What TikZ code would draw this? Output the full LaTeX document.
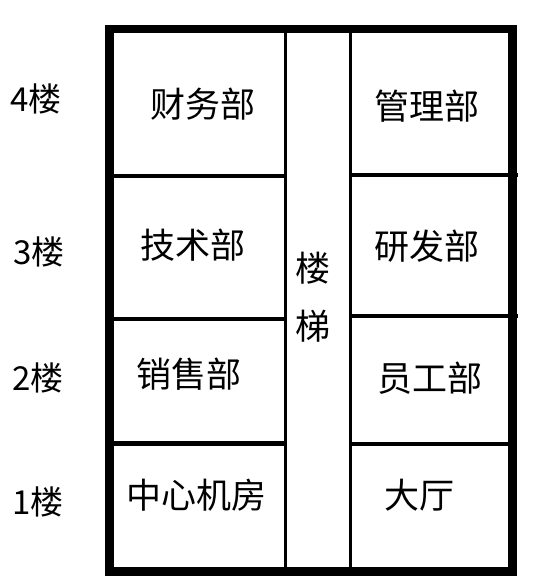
\documentclass[tikz,border=0pt]{standalone}
\usepackage{fontspec}
\setmainfont{Noto Sans CJK SC}
\newcommand{\wall}[2]{
  \draw [line width=4.5pt,color=black] (#1) to (#2)
}
\tikzset{
  room/.style={font=\fontsize{35}{42}\selectfont, inner sep=0pt},
  floor/.style={font=\fontsize{33}{40}\selectfont, inner sep=0pt}
}

\begin{document}
\begin{tikzpicture}[x=1pt,y=-1pt]
\useasboundingbox (0,0) rectangle (537,586);

% outer walls
\draw [line width=8.5pt,color=black] (109.5,29) rectangle (512.5,571.5);

% stair walls
\coordinate (S1t) at (285.5, 33);
\coordinate (S1b) at (285.5,567);
\coordinate (S2t) at (350  , 33);
\coordinate (S2b) at (350  ,567);
\draw [line width=3pt] (S1t) -- (S1b);
\draw [line width=3pt] (S2t) -- (S2b);

% left side walls
\coordinate (L1a) at (114,176);
\coordinate (L1b) at (285,176);
\coordinate (L2a) at (114,319);
\coordinate (L2b) at (285,319);
\coordinate (L3a) at (114,443.5);
\coordinate (L3b) at (285,443.5);

% right side walls
\coordinate (R1a) at (350,175);
\coordinate (R1b) at (518,175);
\coordinate (R2a) at (350,316);
\coordinate (R2b) at (518,316);
\coordinate (R3a) at (350,444);
\coordinate (R3b) at (508,444);

\wall {L1a} {L1b};
\wall {L2a} {L2b};
\wall {L3a} {L3b};
\wall {R1a} {R1b};
\wall {R2a} {R2b};
\wall {R3a} {R3b};

% floor labels
\node [floor] (F4) at (36,99)  {4楼};
\node [floor] (F3) at (39,252) {3楼};
\node [floor] (F2) at (38,378) {2楼};
\node [floor] (F1) at (38,502) {1楼};

% left rooms
\node [room] (caiwu)   at (203,104.5) {财务部};
\node [room] (jishu)   at (193,245)   {技术部};
\node [room] (xiaoshou) at (189,374)  {销售部};
\node [room] (jifang)  at (196,495)   {中心机房};

% right rooms
\node [room] (guanli)  at (427,106)   {管理部};
\node [room] (yanfa)   at (427,246)   {研发部};
\node [room] (yuangong) at (430,378)  {员工部};
\node [room] (dating)  at (419,495)   {大厅};

% stairs
\node [room] (lou) at (313,268.5) {楼};
\node [room] (ti)  at (313,326.5) {梯};

\end{tikzpicture}
\end{document}
